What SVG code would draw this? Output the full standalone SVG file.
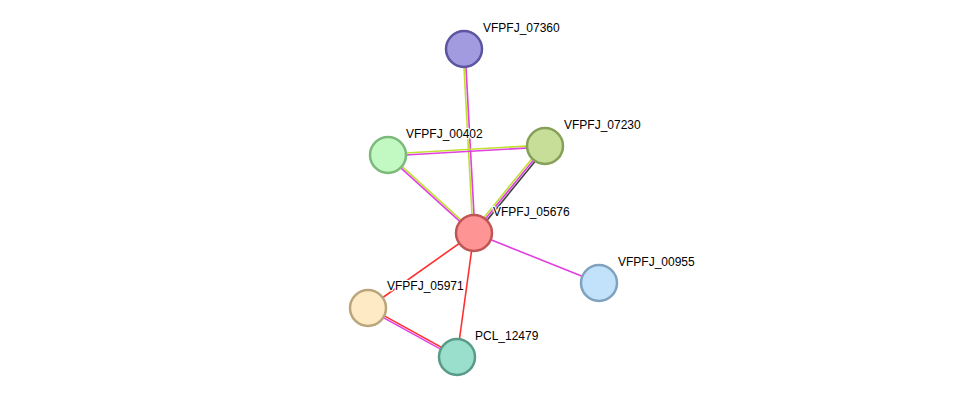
<svg xmlns="http://www.w3.org/2000/svg" width="976" height="403" viewBox="0 0 976 403">
<style>
.e{stroke-width:1.6;fill:none}
.y{stroke:#c0e030}
.m{stroke:#e040e0}
.k{stroke:#404040}
.r{stroke:#ff3030}
.n{stroke-width:2.5}
text{font-family:"Liberation Sans",Arial,sans-serif;font-size:12px;fill:#000;stroke:#fff;stroke-width:2.5;paint-order:stroke;stroke-linejoin:round}
</style>
<rect width="976" height="403" fill="#fff"/>
<g id="edges">
<line class="e y" x1="463" y1="49" x2="473" y2="233"/>
<line class="e m" x1="465" y1="49" x2="475" y2="233"/>
<line class="e y" x1="388" y1="154" x2="545" y2="145"/>
<line class="e m" x1="388" y1="156" x2="545" y2="147"/>
<line class="e y" x1="388.7" y1="154.3" x2="474.7" y2="232.3"/>
<line class="e m" x1="387.3" y1="155.7" x2="473.3" y2="233.7"/>
<line class="e y" x1="543.4" y1="144.7" x2="472.4" y2="231.7"/>
<line class="e m" x1="545" y1="146" x2="474" y2="233"/>
<line class="e k" x1="546.6" y1="147.3" x2="475.6" y2="234.3"/>
<line class="e m" x1="474" y1="233" x2="599" y2="283"/>
<line class="e r" x1="474" y1="233" x2="368" y2="308"/>
<line class="e r" x1="474" y1="233" x2="457" y2="357"/>
<line class="e r" x1="368.5" y1="307.1" x2="457.5" y2="356.1"/>
<line class="e m" x1="367.5" y1="308.9" x2="456.5" y2="357.9"/>
</g>
<g id="VFPFJ_07360"><circle class="n" cx="464" cy="49" r="18" fill="#a39be0" stroke="#5c55a0"/><text x="483" y="32">VFPFJ_07360</text></g>
<g id="VFPFJ_00402"><circle class="n" cx="388" cy="155" r="18" fill="#c2f9c2" stroke="#7cba7c"/><text x="406" y="138">VFPFJ_00402</text></g>
<g id="VFPFJ_07230"><circle class="n" cx="545" cy="146" r="18" fill="#c6de98" stroke="#86a05a"/><text x="564" y="129">VFPFJ_07230</text></g>
<g id="VFPFJ_05676"><circle class="n" cx="474" cy="233" r="18" fill="#ff9494" stroke="#c05555"/><text x="493" y="216">VFPFJ_05676</text></g>
<g id="VFPFJ_00955"><circle class="n" cx="599" cy="283" r="18" fill="#c2e2fc" stroke="#7fa2bf"/><text x="618" y="266">VFPFJ_00955</text></g>
<g id="VFPFJ_05971"><circle class="n" cx="368" cy="308" r="18" fill="#feeac4" stroke="#bba67c"/><text x="387" y="290">VFPFJ_05971</text></g>
<g id="PCL_12479"><circle class="n" cx="457" cy="357" r="18" fill="#99dfcc" stroke="#5a9a88"/><text x="475" y="340">PCL_12479</text></g>
</svg>
